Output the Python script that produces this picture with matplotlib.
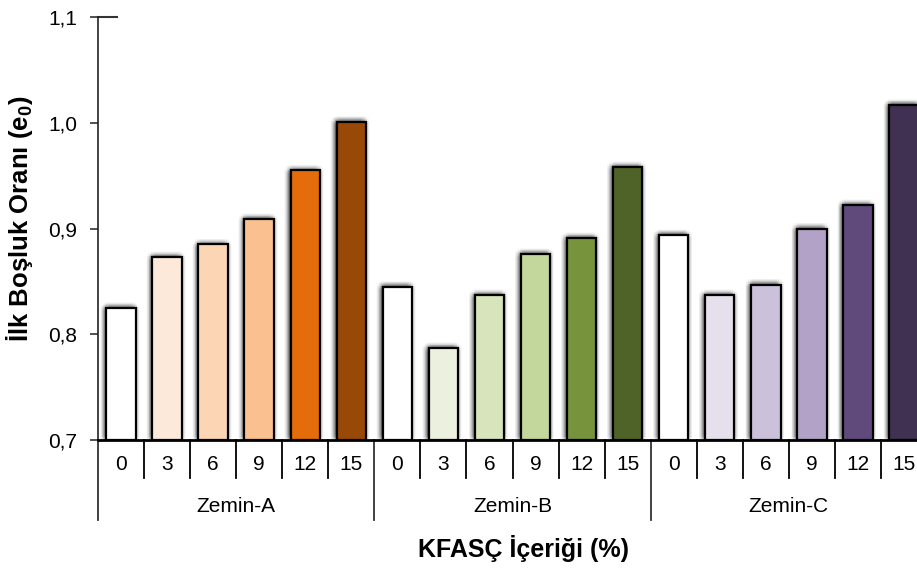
import matplotlib
matplotlib.use("Agg")
import math
import matplotlib.pyplot as plt
import matplotlib.patheffects as pe
import matplotlib.transforms as mtransforms
from matplotlib.ticker import FuncFormatter

plt.rcParams['font.family'] = ['Liberation Sans', 'DejaVu Sans']
plt.rcParams['mathtext.fontset'] = 'custom'
plt.rcParams['mathtext.rm'] = 'Liberation Sans'
plt.rcParams['mathtext.bf'] = 'Liberation Sans:bold'

groups = ["Zemin-A", "Zemin-B", "Zemin-C"]
contents = ["0", "3", "6", "9", "12", "15"]
zemin_a = [0.825, 0.873, 0.885, 0.909, 0.955, 1.001]
zemin_b = [0.845, 0.787, 0.837, 0.876, 0.891, 0.958]
zemin_c = [0.894, 0.837, 0.847, 0.900, 0.922, 1.017]
colors_a = ["#ffffff", "#fde9da", "#fcd5b5", "#fac090", "#e46c0a", "#984807"]
colors_b = ["#ffffff", "#ebf1de", "#d7e4bc", "#c3d69b", "#77933c", "#4f6228"]
colors_c = ["#ffffff", "#e6e0ec", "#ccc1da", "#b3a2c7", "#604a7b", "#403152"]
y_ticks = [0.7, 0.8, 0.9, 1.0, 1.1]

W, H = 917, 568
fig = plt.figure(figsize=(W / 100, H / 100), dpi=100)
left, right, bottom, top = 98, 927, 440, 17
ax = fig.add_axes([left / W, (H - bottom) / H, (right - left) / W, (bottom - top) / H])

values = zemin_a + zemin_b + zemin_c
colors = colors_a + colors_b + colors_c
n = len(values)
xs = list(range(n))
base = y_ticks[0]

# soft blurred shadow (shifted slightly up-left)
shadow = []
cx, cy = -1.2, 0.8  # px
for r in [5, 4, 3, 2, 1]:
    for k in range(12):
        ang = 2 * math.pi * k / 12
        dx = (cx + r * math.cos(ang)) * 0.72
        dy = (cy + r * math.sin(ang)) * 0.72
        shadow.append(pe.SimplePatchShadow(offset=(dx, dy), shadow_rgbFace='black',
                                           alpha=0.024))
shadow.append(pe.Normal())

bars = ax.bar(xs, [v - base for v in values], bottom=base, width=0.64,
              color=colors, edgecolor='black', linewidth=1.6, zorder=3)
for b in bars:
    b.set_path_effects(shadow)

ax.set_xlim(-0.5, n - 0.5)
ax.set_ylim(y_ticks[0], y_ticks[-1])
ax.set_yticks(y_ticks)
ax.yaxis.set_major_formatter(FuncFormatter(lambda v, p: f"{v:.1f}".replace('.', ',')))
ax.tick_params(axis='y', labelsize=15, length=6, width=1.2, pad=9, color='#333333')
ax.set_xticks([])
for s in ['top', 'right']:
    ax.spines[s].set_visible(False)
ax.spines['left'].set_linewidth(1.2)
ax.spines['bottom'].set_linewidth(2)
ax.spines['left'].set_color('#222222')
ax.spines['left'].set_zorder(5)
ax.spines['bottom'].set_zorder(5)

# short line at top
ax.plot([0, 19 / (right - left)], [1, 1], transform=ax.transAxes, color='#333333',
        lw=1.5, clip_on=False)

trans = mtransforms.blended_transform_factory(ax.transData, ax.transAxes)
ph = bottom - top
y_short = -(478 - bottom) / ph
y_long = -(520 - bottom) / ph
y_cat = -(465 - bottom) / ph
y_grp = -(507 - bottom) / ph

ng = len(contents)
for i in range(n + 1):
    xb = i - 0.5
    if i % ng == 0:
        ax.plot([xb, xb], [0, y_long], transform=trans, color='#333333', lw=1.3, clip_on=False)
    else:
        ax.plot([xb, xb], [0, y_short], transform=trans, color='black', lw=1.3, clip_on=False)
for i in range(n):
    ax.text(i, y_cat, contents[i % ng], transform=trans, ha='center', va='center',
            fontsize=15)
for g, name in enumerate(groups):
    ax.text(g * ng + (ng - 1) / 2, y_grp, name, transform=trans, ha='center', va='center',
            fontsize=15)

fig.text(524 / W, 1 - 548 / H, "KFASÇ İçeriği (%)", ha='center', va='center',
         fontsize=18, fontweight='bold')
fig.text(20 / W, 1 - 219 / H, r"İlk Boşluk Oranı (e$_{\mathbf{0}}$)", ha='center',
         va='center', rotation=90, fontsize=18.5, fontweight='bold')

fig.savefig("out.png", dpi=100)
